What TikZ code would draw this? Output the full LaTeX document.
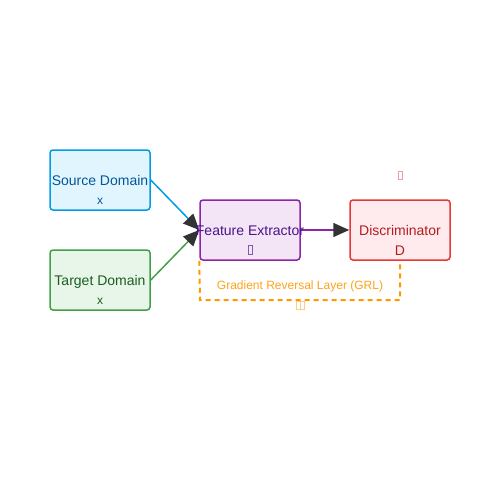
\documentclass[tikz,border=0pt]{standalone}
\usepackage{fontspec}
\setmainfont{Liberation Sans}
\usetikzlibrary{arrows.meta}
\definecolor{srcfill}{HTML}{E1F5FE}\definecolor{srcdraw}{HTML}{039BE5}\definecolor{srctext}{HTML}{01579B}
\definecolor{tgtfill}{HTML}{E8F5E9}\definecolor{tgtdraw}{HTML}{43A047}\definecolor{tgttext}{HTML}{1B5E20}
\definecolor{fefill}{HTML}{F3E5F5}\definecolor{fedraw}{HTML}{8E24AA}\definecolor{fetext}{HTML}{4A148C}
\definecolor{dfill}{HTML}{FFEBEE}\definecolor{ddraw}{HTML}{E53935}\definecolor{dtext}{HTML}{B71C1C}
\definecolor{grl}{HTML}{FF9800}\definecolor{tip}{HTML}{333333}
\begin{document}
\begin{tikzpicture}[x=1pt,y=-1pt,
  box/.style={rounded corners=3pt,line width=1.5pt,minimum width=100pt,minimum height=60pt,inner sep=0pt},
  lbl/.style={font=\fontsize{14}{16}\selectfont,inner sep=0pt,anchor=base},
  sub/.style={font=\fontsize{12}{14}\selectfont,inner sep=0pt,anchor=base},
  tofu/.style={draw,line width=0.5pt,minimum width=4pt,minimum height=9pt,inner sep=0pt},
  conn/.style={line width=1.5pt,-{Triangle[length=16pt,width=14pt,fill=tip,color=tip]}}]
\useasboundingbox (0,0) rectangle (500,500);
\node[box,fill=srcfill,draw=srcdraw] (src) at (100,180) {};
\node[box,fill=tgtfill,draw=tgtdraw] (tgt) at (100,280) {};
\node[box,fill=fefill,draw=fedraw] (fe) at (250,230) {};
\node[box,fill=dfill,draw=ddraw] (d) at (400,230) {};
\draw[conn,draw=srcdraw] (src.east) -- (fe.west);
\draw[conn,draw=tgtdraw] (tgt.east) -- (fe.west);
\draw[conn,draw=fedraw] (fe.east) -- (d.west);
\coordinate (g0) at (fe.south west);
\coordinate (g1) at (200,300);
\coordinate (g2) at (400,300);
\draw[grl,line width=2pt,dash pattern=on 5pt off 4pt] (g0) -- (g1) -- (g2) -- (d.south);
\node[lbl,text=srctext] (srcl) at (100,185) {Source Domain};
\node[sub,text=srctext] (srcx) at (100,204) {x};
\node[lbl,text=tgttext] (tgtl) at (100,285) {Target Domain};
\node[sub,text=tgttext] (tgtx) at (100,304) {x};
\node[lbl,text=fetext] (fel) at (250,235) {Feature Extractor};
\node[tofu,draw=fetext!70] (fet) at (250,250) {};
\node[lbl,text=dtext] (dl) at (400,235) {Discriminator};
\node[lbl,text=dtext] (dd) at (400,255) {D};
\node[tofu,draw=ddraw!50,minimum height=8pt,minimum width=3.5pt] (dt) at (400,175) {};
\node[sub,text=grl!90!white] (grll) at (300,289.5) {Gradient Reversal Layer (GRL)};
\node[tofu,draw=grl!50,minimum height=8pt,minimum width=3.5pt] (gt1) at (298,305) {};
\node[tofu,draw=grl!50,minimum height=8pt,minimum width=3.5pt] (gt2) at (302,305) {};
\end{tikzpicture}
\end{document}
